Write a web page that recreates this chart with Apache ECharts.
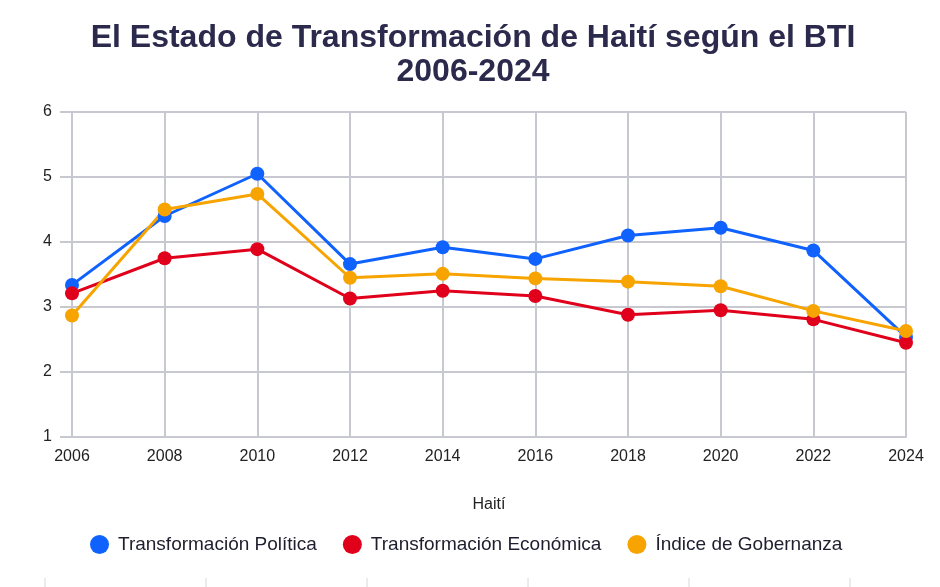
<!DOCTYPE html>
<html>
<head>
<meta charset="utf-8">
<script src="https://cdn.jsdelivr.net/npm/echarts@6/dist/echarts.min.js"></script>
<style>html,body{margin:0;padding:0;background:#fff;}#c{width:940px;height:587px;}</style>
</head>
<body>
<div id="c"></div>
<script>
const years = ['2006','2008','2010','2012','2014','2016','2018','2020','2022','2024'];
const politica = [3.34, 4.40, 5.05, 3.66, 3.92, 3.74, 4.10, 4.22, 3.87, 2.54];
const economica = [3.21, 3.75, 3.89, 3.13, 3.25, 3.17, 2.88, 2.95, 2.81, 2.45];
const gobernanza = [2.87, 4.50, 4.74, 3.45, 3.51, 3.44, 3.39, 3.32, 2.94, 2.63];
const yTicks = [1, 6, 1];

const chart = echarts.init(document.getElementById('c'));
const font = 'Liberation Sans, Arial, sans-serif';
function mk(name, data, color) {
  return {
    name, type: 'line', data, color,
    symbol: 'circle', symbolSize: 14,
    lineStyle: { width: 3, color },
    itemStyle: { color },
    emphasis: { disabled: true }
  };
}
const bottomTicks = [45, 206, 367, 528, 689, 850].map(x => ({
  type: 'line', silent: true,
  shape: { x1: x, y1: 578, x2: x, y2: 587 },
  style: { stroke: '#d8d8d8', lineWidth: 1 }
}));
chart.setOption({
  animation: false,
  title: {
    text: 'El Estado de Transformación de Haití según el BTI\n2006-2024',
    left: 468, top: 16, textAlign: 'center',
    textStyle: { fontFamily: font, fontSize: 32, fontWeight: 'bold', color: '#2b2a4c', lineHeight: 34 }
  },
  legend: {
    top: 530, left: 85, itemGap: 26,
    icon: 'circle', itemWidth: 19, itemHeight: 19,
    textStyle: { fontFamily: font, fontSize: 19, color: '#1e1e2e', padding: [0, 0, 0, 4] },
    data: ['Transformación Política', 'Transformación Económica', 'Índice de Gobernanza']
  },
  grid: { left: 72, right: 34, top: 112, bottom: 150, containLabel: false },
  xAxis: {
    type: 'category', data: years, boundaryGap: false,
    name: 'Haití', nameLocation: 'middle', nameGap: 60,
    nameTextStyle: { fontFamily: font, fontSize: 16, color: '#222' },
    axisLine: { show: true, lineStyle: { color: '#c8c8d0', width: 2 } },
    axisTick: { show: false },
    axisLabel: { fontFamily: font, fontSize: 16, color: '#222', margin: 12 },
    splitLine: { show: true, lineStyle: { color: '#c8c8d0', width: 2 } }
  },
  yAxis: {
    type: 'value', min: yTicks[0], max: yTicks[1], interval: yTicks[2],
    axisLine: { show: false },
    axisTick: { show: true, length: 12, lineStyle: { color: '#c8c8d0', width: 2 } },
    axisLabel: { fontFamily: font, fontSize: 16, color: '#222', margin: 20 },
    splitLine: { show: true, lineStyle: { color: '#c8c8d0', width: 2 } }
  },
  graphic: bottomTicks,
  series: [
    mk('Transformación Política', politica, '#0f62fe'),
    mk('Transformación Económica', economica, '#e0001b'),
    mk('Índice de Gobernanza', gobernanza, '#f7a400')
  ]
});
</script>
</body>
</html>
